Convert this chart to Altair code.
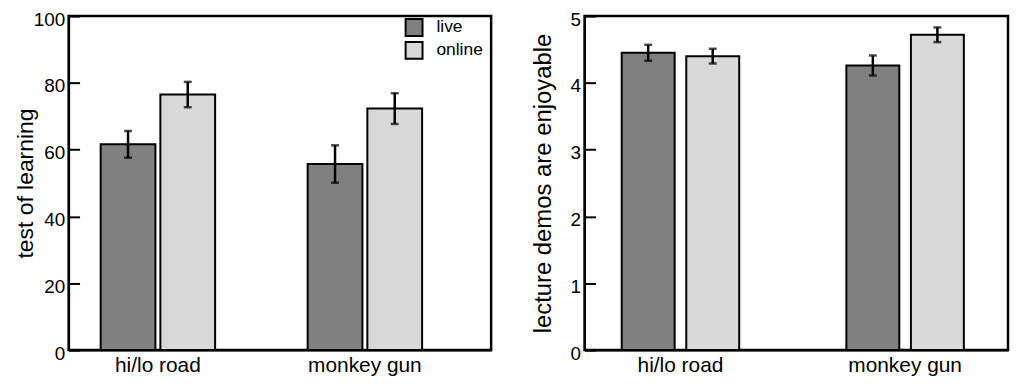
import altair as alt
import pandas as pd

demos = ["hi/lo road", "monkey gun"]
modes = ["live", "online"]

# test of learning (left panel)
learn_mean = [61.6, 76.5, 55.7, 72.3]
learn_err = [4.0, 3.8, 5.6, 4.6]

# lecture demos are enjoyable (right panel)
enjoy_mean = [4.45, 4.40, 4.26, 4.72]
enjoy_err = [0.12, 0.11, 0.15, 0.11]

colors = ["#808080", "#d9d9d9"]
FONT = "Liberation Sans"


def make_df(means, errs):
    rows = []
    i = 0
    for d in demos:
        for m in modes:
            rows.append({"demo": d, "mode": m, "value": means[i],
                         "lo": means[i] - errs[i], "hi": means[i] + errs[i]})
            i += 1
    return pd.DataFrame(rows)


def panel(df, ymax, ytitle, tfs, tx, ticks, width, height, pin, pout, align, subpad, legend):
    xs = alt.X("demo:N", sort=demos, title=None,
               scale=alt.Scale(paddingInner=pin, paddingOuter=pout, align=align),
               axis=alt.Axis(labelAngle=0, ticks=False, labelFontSize=21, labelPadding=5,
                             labelColor="black", domainColor="black", domainWidth=2))
    xo = alt.XOffset("mode:N", sort=modes,
                     scale=alt.Scale(paddingInner=subpad, paddingOuter=0))
    yscale = alt.Scale(domain=[0, ymax], nice=False, zero=True)
    col = alt.Color("mode:N", sort=modes,
                    scale=alt.Scale(domain=modes, range=colors),
                    legend=legend)
    base = alt.Chart(df)
    bars = base.mark_bar(stroke="black", strokeWidth=2).encode(
        x=xs, xOffset=xo,
        y=alt.Y("value:Q", scale=yscale, title=ytitle,
                axis=alt.Axis(values=ticks, ticks=False, tickSize=0, labelPadding=4,
                              labelOffset=3,
                              labelFontSize=19, titleFontSize=tfs, titleFontWeight="normal",
                              titleX=tx, titleY=height / 2, titleBaseline="bottom",
                              labelColor="black", titleColor="black",
                              domainColor="black", domainWidth=2, grid=False)),
        color=col,
    )
    rules = base.mark_rule(color="black", strokeWidth=2.5).encode(
        x=xs, xOffset=xo,
        y=alt.Y("lo:Q", scale=yscale,
                axis=alt.Axis(orient="left", offset=-11, values=ticks, ticks=True,
                              tickSize=11, tickWidth=2, tickColor="black",
                              labels=False, domain=False, grid=False, title=None)),
        y2="hi:Q",
    )
    cap_lo = base.mark_tick(color="black", thickness=2.5, size=8).encode(
        x=xs, xOffset=xo, y=alt.Y("lo:Q", scale=yscale, axis=None))
    cap_hi = base.mark_tick(color="black", thickness=2.5, size=8).encode(
        x=xs, xOffset=xo, y=alt.Y("hi:Q", scale=yscale, axis=None))
    return alt.layer(bars, rules, cap_lo, cap_hi).resolve_axis(y="independent").properties(
        width=width, height=height)


left = panel(make_df(learn_mean, learn_err), 100, "test of learning", 23, -31.5,
             [0, 20, 40, 60, 80, 100], 425, 336, 0.447, 0.244, 0.317, 0.083,
             alt.Legend(title=None, orient="none", legendX=338, legendY=2,
                        symbolType="square", symbolSize=289, symbolStrokeColor="black",
                        symbolStrokeWidth=2, labelFontSize=17.5, labelColor="black",
                        labelOffset=13, rowPadding=-2, symbolOpacity=1))
right = panel(make_df(enjoy_mean, enjoy_err), 5, "lecture demos are enjoyable", 24, -29,
              [0, 1, 2, 3, 4, 5], 426, 336, 0.477, 0.181, 0.457, 0.18, None)

chart = alt.hconcat(left, right, spacing=37).resolve_scale(
    color="independent", xOffset="independent").resolve_legend(
    color="independent").properties(
    padding={"left": 5, "top": -1, "right": 0, "bottom": 0}
).configure(
    font=FONT
).configure_view(stroke="black", strokeWidth=2.5)

chart.save("out.html", embed_options={"renderer": "svg", "actions": False})
